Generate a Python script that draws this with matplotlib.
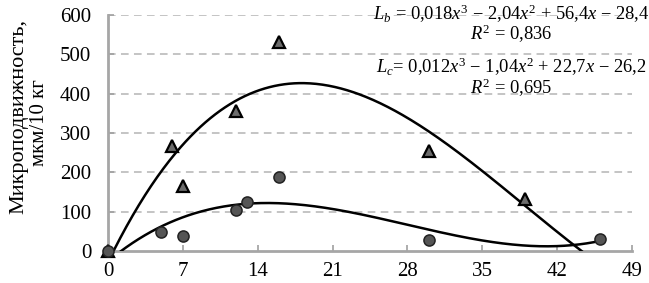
import numpy as np
import matplotlib
matplotlib.use('Agg')
import matplotlib.pyplot as plt

# Data
x_b = [0, 6, 7, 12, 16, 30, 39]
y_b = [0, 266, 165, 356, 532, 253, 132]
x_c = [0, 5, 7, 12, 13, 16, 30, 46]
y_c = [0, 48, 38, 103, 124, 189, 29, 30]
x_ticks = [0, 7, 14, 21, 28, 35, 42, 49]
y_ticks = [0, 100, 200, 300, 400, 500, 600]
eq_b = r'$L_b$ = 0,018$x^3$ − 2,04$x^2$ + 56,4$x$ − 28,4'
r2_b = r'$R^2$ = 0,836'
eq_c = r'$L_c$= 0,012$x^3$ − 1,04$x^2$ + 22,7$x$ − 26,2'
r2_c = r'$R^2$ = 0,695'
ylabel1 = 'Микроподвижность,'
ylabel2 = 'мкм/10 кг'

plt.rcParams['font.family'] = ['Liberation Serif', 'DejaVu Serif']
plt.rcParams['mathtext.fontset'] = 'custom'
plt.rcParams['mathtext.rm'] = 'Liberation Serif'
plt.rcParams['mathtext.it'] = 'Liberation Serif:italic'

W, H = 649, 283
fig = plt.figure(figsize=(W / 100, H / 100), dpi=100)
ax = fig.add_axes([108 / W, 1 - 251 / H, 524 / W, 236 / H])

ax.set_xlim(0, 49)
ax.set_ylim(0, 600)
ax.set_xticks(x_ticks)
ax.set_yticks(y_ticks)
ax.tick_params(axis='both', labelsize=15, colors='#a0a0a0', labelcolor='black',
               direction='in', length=4, width=1.2)
ax.tick_params(axis='x', pad=8)
ax.tick_params(axis='y', pad=12)

for s in ['top', 'right']:
    ax.spines[s].set_visible(False)
for s in ['left', 'bottom']:
    ax.spines[s].set_color('#a6a6a6')
    ax.spines[s].set_linewidth(2)

for yv in y_ticks[1:]:
    ax.axhline(yv, color='#b4b4b4', lw=1.1, ls=(0, (5, 3.5)), zorder=0)

# Trendlines: cubic fits of the data
xx = np.linspace(0, max(max(x_b), max(x_c)), 400)
pb = np.polyfit(x_b, y_b, 3)
pc = np.polyfit(x_c, y_c, 3)
ax.plot(xx, np.polyval(pb, xx), color='black', lw=1.8, zorder=3)
ax.plot(xx, np.polyval(pc, xx), color='black', lw=1.8, zorder=3)

ax.plot(x_b, y_b, ls='none', marker='^', ms=8, mfc='#6b6b6b', mec='black',
        mew=1.6, zorder=4, clip_on=False)
ax.plot(x_c, y_c, ls='none', marker='o', ms=8, mfc='#555555', mec='#222222',
        mew=1.1, zorder=5, clip_on=False)

fs = 13.3
cx = 511 / W
fig.text(cx, 1 - 14 / H, eq_b, ha='center', va='center', fontsize=fs)
fig.text(cx, 1 - 34 / H, r2_b, ha='center', va='center', fontsize=fs)
fig.text(cx, 1 - 67 / H, eq_c, ha='center', va='center', fontsize=fs)
fig.text(cx, 1 - 88 / H, r2_c, ha='center', va='center', fontsize=fs)

fig.text(19 / W, 1 - 116 / H, ylabel1, rotation=90, ha='center', va='center', fontsize=16)
fig.text(39 / W, 1 - 123 / H, ylabel2, rotation=90, ha='center', va='center', fontsize=15)

fig.savefig('out.png', dpi=100)
